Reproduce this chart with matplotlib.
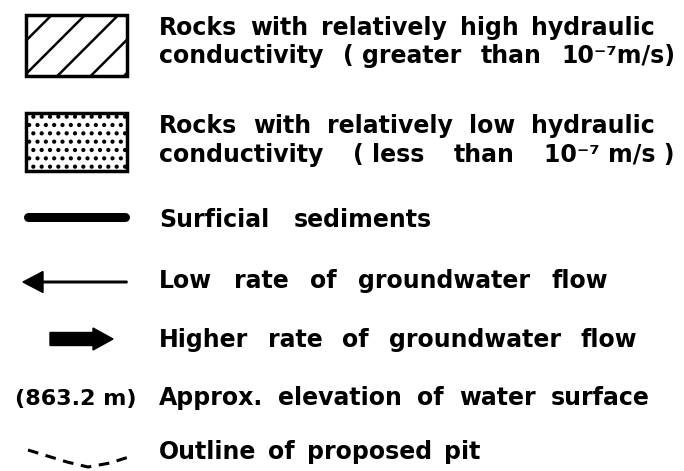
import matplotlib.pyplot as plt
from matplotlib.patches import Rectangle, FancyArrow

plt.rcParams['font.family'] = ['DejaVu Sans']
plt.rcParams['hatch.linewidth'] = 1.8

# legend text lines (words are spread out like the hand lettering)
lines = [
    ["Rocks", "with", "relatively", "high", "hydraulic"],
    ["conductivity", "( greater", "than", "10\u207b\u2077m/s)"],
    ["Rocks", "with", "relatively", "low", "hydraulic"],
    ["conductivity", "( less", "than", "10\u207b\u2077 m/s )"],
    ["Surficial", "sediments"],
    ["Low", "rate", "of", "groundwater", "flow"],
    ["Higher", "rate", "of", "groundwater", "flow"],
    ["Approx.", "elevation", "of", "water", "surface"],
    ["Outline", "of", "proposed", "pit"],
]
line_base = [35, 63, 133, 162, 227, 288, 347, 405, 459]
line_end = [655, 675, 655, 675, 432, 608, 637, 650, 480]
elev_label = "(863.2 m)"

# pit outline symbol (dashed bent line)
pit_x = [28, 67, 88, 110, 132]
pit_y = [450, 462, 467, 463, 456]

fig = plt.figure(figsize=(6.84, 4.71), dpi=100)
ax = fig.add_axes([0, 0, 1, 1])
ax.set_xlim(0, 684)
ax.set_ylim(471, 0)
ax.axis('off')

# hatched box
ax.add_patch(Rectangle((26, 15), 101, 61, facecolor='white', edgecolor='black',
                       lw=2.5, hatch='/'))
# dotted box
ax.add_patch(Rectangle((26, 113), 101, 58, facecolor='white', edgecolor='black',
                       lw=2.5, hatch='..'))
# surficial sediments
ax.plot([28, 125], [217, 217], color='black', lw=6.5, solid_capstyle='round')
# low flow arrow
ax.add_patch(FancyArrow(127, 282, -104, 0, width=1.6, head_width=21, head_length=20,
                        length_includes_head=True, color='black'))
# higher flow arrow
ax.add_patch(FancyArrow(50, 339, 63, 0, width=13, head_width=22, head_length=20,
                        length_includes_head=True, color='black'))
# elevation
ax.text(76, 405, elev_label, ha='center', va='baseline', fontsize=16, fontweight='bold')
# pit outline
ax.plot(pit_x, pit_y, color='black', lw=2.2, ls=(0, (3.5, 2.5)))

# place words, then spread them to fill each line
x0 = 159
texts = []
for words, yb in zip(lines, line_base):
    row = [ax.text(x0, yb, w, ha='left', va='baseline', fontsize=17, fontweight='bold')
           for w in words]
    texts.append(row)

fig.canvas.draw()
r = fig.canvas.get_renderer()
for row, xe in zip(texts, line_end):
    widths = [t.get_window_extent(r).width for t in row]
    gap = (xe - x0 - sum(widths)) / max(len(row) - 1, 1)
    x = x0
    for t, w in zip(row, widths):
        t.set_x(x)
        x += w + gap

fig.savefig('out.png', dpi=100)
